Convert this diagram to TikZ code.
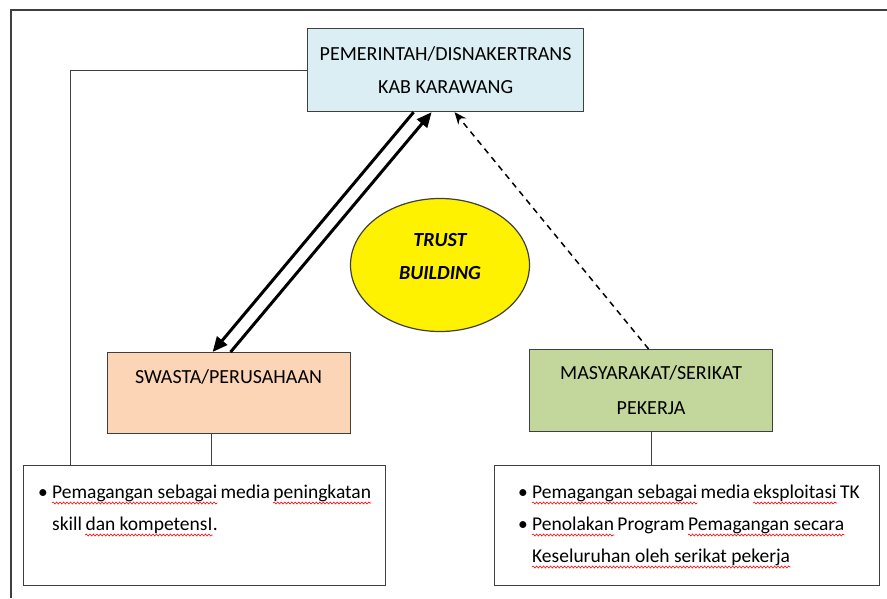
\documentclass[tikz,border=0pt]{standalone}
\usepackage{fontspec}
\setmainfont{Carlito}
\usetikzlibrary{arrows.meta,shapes.geometric,positioning,decorations.pathmorphing}
\definecolor{biru}{HTML}{DBEEF4}
\definecolor{jingga}{HTML}{FBD5B5}
\definecolor{hijau}{HTML}{C3D69B}
\definecolor{garis}{HTML}{3F3F3F}
\tikzset{
  salah/.style={red, line width=0.6pt, decorate, decoration={snake, amplitude=1pt, segment length=3.5pt}},
}

\begin{document}
\begin{tikzpicture}[x=1pt,y=-1pt,font=\fontsize{20}{33}\selectfont]

      \useasboundingbox (0,0) rectangle (887,598);
      \draw[garis, line width=1.5pt] (11,598) |- (887,10);

      \begin{scope}[every node/.style={draw=garis, line width=1.2pt, align=center, anchor=north west}]
        \node[fill=biru, minimum width=276pt, minimum height=83pt] (gov) at (307,28) {PEMERINTAH/DISNAKERTRANS\\KAB KARAWANG};
        \node[fill=jingga, minimum width=243pt, minimum height=81pt] (swasta) at (107,352) {};
        \node[fill=hijau, minimum width=243pt, minimum height=82pt] (masy) at (529,349) {MASYARAKAT/SERIKAT\\[2pt]PEKERJA};
        \node[minimum width=362pt, minimum height=120pt] (kiri) at (23,465) {};
        \node[minimum width=385pt, minimum height=120pt] (kanan) at (494,465) {};
      \end{scope}

      \node (swastateks) at (228.5,377) {SWASTA/PERUSAHAAN};
      \node[ellipse, draw=garis, line width=1.2pt, fill=yellow, minimum width=179pt, minimum height=133pt] (trust) at (440,265) {};
      \node[align=center, font=\fontsize{20}{33}\selectfont\bfseries\itshape] (trustteks) at (440,257) {TRUST\\BUILDING};

      \begin{scope}[every node/.style={anchor=base west, inner sep=0pt, font=\fontsize{19.5}{24}\selectfont}]
        % kotak kiri
        \node (b1) at (38,498) {\textbullet};
        \node (t1a) at (52,498) {Pemagangan sebagai};
        \node (t1b) [base right=3pt of t1a] {media};
        \node (t1c) [base right=3pt of t1b] {peningkatan};
        \node (t2a) at (52,530) {skill};
        \node (t2b) [base right=3pt of t2a] {dan kompetensI};
        \node (t2c) [base right=0pt of t2b] {.};
        % kotak kanan
        \node (b2) at (518,498) {\textbullet};
        \node (t3a) at (532,498) {Pemagangan sebagai};
        \node (t3b) [base right=3pt of t3a] {media};
        \node (t3c) [base right=3pt of t3b] {eksploitasi};
        \node (t3d) [base right=3pt of t3c] {TK};
        \node (b3) at (518,530) {\textbullet};
        \node (t4a) at (532,530) {Penolakan};
        \node (t4b) [base right=3pt of t4a] {Program};
        \node (t4c) [base right=3pt of t4b] {Pemagangan secara};
        \node (t5a) at (532,562) {Keseluruhan oleh serikat pekerja};
      \end{scope}

      \foreach \n in {t1a,t1c,t2b,t3a,t3c,t4a,t4c,t5a}
        \draw[salah] ([yshift=-5pt]\n.base west) -- ([yshift=-5pt]\n.base east);

      \begin{scope}[garis, line width=1.2pt]
        \draw (gov.west) -| ([xshift=-134pt]kiri.north);
        \draw ([xshift=-17.5pt]swasta.south) -- ([xshift=7pt]kiri.north);
        \draw (masy.south) -- (masy.south |- kanan.north);
      \end{scope}

      \begin{scope}[line width=3pt, -{Triangle[length=15pt,width=13pt]}]
        \draw ([xshift=-32pt]gov.south) -- ([xshift=-16.5pt]swasta.north);
        \draw ([xshift=1.5pt]swasta.north) -- ([xshift=-14pt]gov.south);
      \end{scope}
      \draw[line width=1.5pt, dash pattern=on 6pt off 5pt, -{Stealth[length=12pt,width=10pt]}] ([xshift=-2.5pt]masy.north) -- ([xshift=9pt]gov.south);

    \end{tikzpicture}
\end{document}
